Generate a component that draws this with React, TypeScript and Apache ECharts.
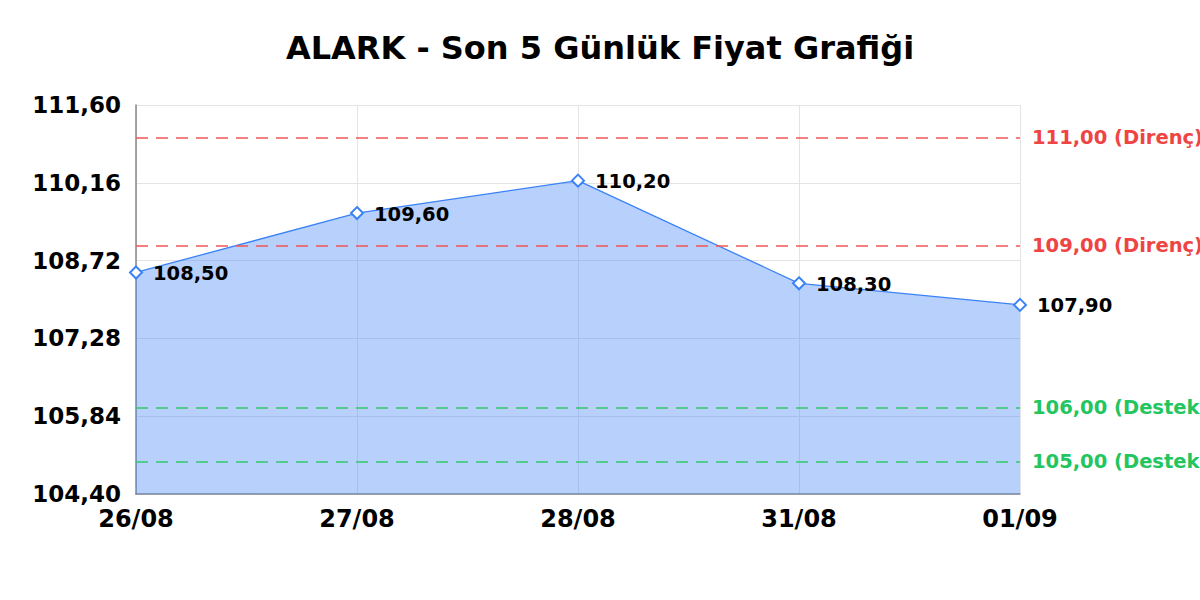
import { useEffect, useRef } from "react";
import * as echarts from "echarts";

const dates = ["26/08", "27/08", "28/08", "31/08", "01/09"];
const prices = [108.5, 109.6, 110.2, 108.3, 107.9];
const resistance = [111, 109];
const support = [106, 105];

const yMin = 104.4;
const yMax = 111.6;
const yStep = 1.44;

function tr(v: number): string {
  return v.toFixed(2).replace(".", ",");
}

export default function App() {
  const ref = useRef<HTMLDivElement | null>(null);

  useEffect(() => {
    document.body.style.margin = "0";
    if (!ref.current) return;
    const chart = echarts.init(ref.current, undefined, { renderer: "svg" });

    const lineLabel = (color: string, name: string) => ({
      show: true,
      position: "end",
      distance: 12,
      color,
      fontFamily: "DejaVu Sans",
      fontWeight: "bold",
      fontSize: 19.5,
      formatter: (p: any) => `${tr(Number(p.value))} (${name})`
    });

    chart.setOption({
      animation: false,
      backgroundColor: "#ffffff",
      textStyle: { fontFamily: "DejaVu Sans" },
      title: {
        text: "ALARK - Son 5 Günlük Fiyat Grafiği",
        left: "center",
        top: 27,
        textStyle: { fontFamily: "DejaVu Sans", fontWeight: "bold", fontSize: 32, color: "#000" }
      },
      grid: { left: 136, right: 180, top: 105, bottom: 106 },
      xAxis: {
        type: "category",
        data: dates,
        boundaryGap: false,
        axisLine: { lineStyle: { color: "#888", width: 1.5 } },
        axisTick: { show: false },
        splitLine: { show: true, lineStyle: { color: "#e4e4e4" } },
        axisLabel: { color: "#000", fontWeight: "bold", fontSize: 24, margin: 13 }
      },
      yAxis: {
        type: "value",
        min: yMin,
        max: yMax,
        interval: yStep,
        axisLine: { show: true, lineStyle: { color: "#888", width: 1.5 } },
        axisTick: { show: false },
        splitLine: { lineStyle: { color: "#e4e4e4" } },
        axisLabel: {
          color: "#000",
          fontWeight: "bold",
          fontSize: 23,
          margin: 15,
          formatter: (v: number) => tr(v)
        }
      },
      series: [
        {
          type: "line",
          data: prices,
          symbol: "diamond",
          symbolSize: 12,
          itemStyle: { color: "#ffffff", borderColor: "#3b82f6", borderWidth: 2 },
          lineStyle: { color: "#3b82f6", width: 1.3 },
          areaStyle: { color: "rgba(59,130,246,0.37)", opacity: 1, origin: "start" },
          label: {
            show: true,
            position: "right",
            distance: 10,
            offset: [0, 1],
            color: "#000",
            fontWeight: "bold",
            fontSize: 19.5,
            formatter: (p: any) => tr(Number(p.value))
          },
          markLine: {
            silent: true,
            symbol: "none",
            data: [
              ...resistance.map((v) => ({
                yAxis: v,
                lineStyle: { color: "#ef5555", type: [12, 8], width: 1.5, opacity: 1 },
                label: lineLabel("#ef4444", "Direnç")
              })),
              ...support.map((v) => ({
                yAxis: v,
                lineStyle: { color: "#33c76a", type: [12, 8], width: 1.5, opacity: 1 },
                label: lineLabel("#22c55e", "Destek")
              }))
            ]
          }
        }
      ]
    });

    return () => {
      chart.dispose();
    };
  }, []);

  return <div ref={ref} style={{ width: 1200, height: 600 }} />;
}
